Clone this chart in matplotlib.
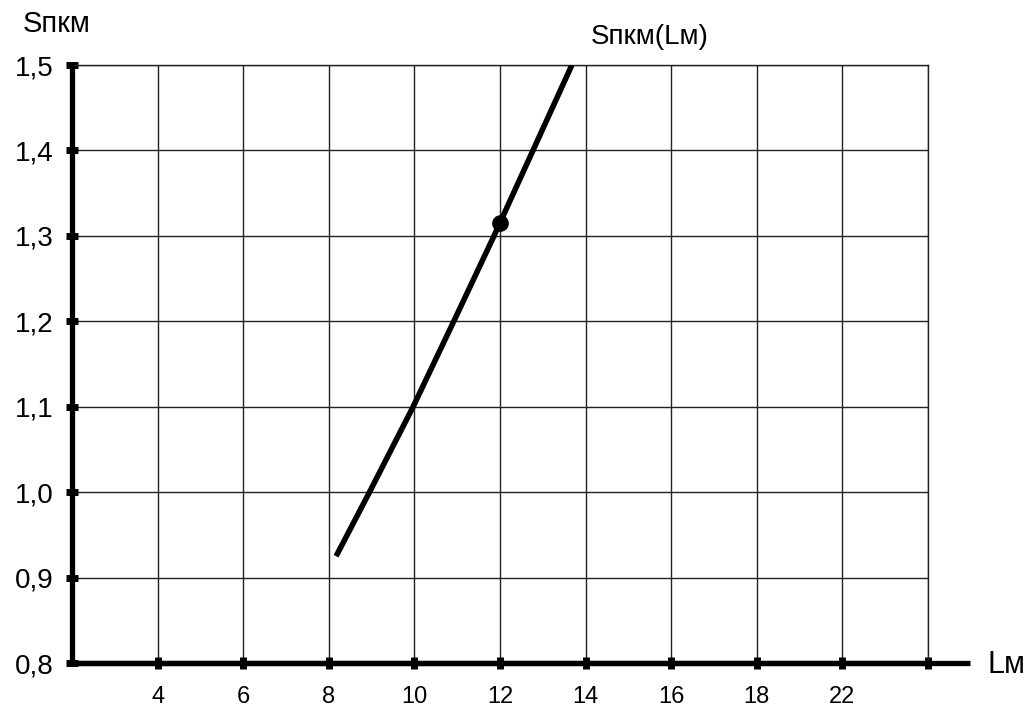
import matplotlib
matplotlib.use('Agg')
from matplotlib import pyplot as plt

plt.rcParams['font.family'] = ['Liberation Sans', 'DejaVu Sans']

# S_pkm as a function of L_m
lm = [8.17, 8.95, 9.97, 10.92, 11.86, 12.77, 13.68]
s_pkm = [0.925, 1.0, 1.1, 1.2, 1.3, 1.4, 1.5]
point_lm = [12.0]
point_s = [1.315]

x_ticks = [4, 6, 8, 10, 12, 14, 16, 18, 20, 22]
x_labels = ['4', '6', '8', '10', '12', '14', '16', '18', '22', '']
y_ticks = [0.8, 0.9, 1.0, 1.1, 1.2, 1.3, 1.4, 1.5]
y_labels = ['0,8', '0,9', '1,0', '1,1', '1,2', '1,3', '1,4', '1,5']

fig = plt.figure(figsize=(10.32, 7.13), dpi=100)
ax = fig.add_axes([0.0698, 0.0701, 0.8294, 0.8387])

ax.set_xlim(2, 22)
ax.set_ylim(0.8, 1.5)

#grid
ax.set_xticks(x_ticks)
ax.set_xticklabels(x_labels, fontsize=17)
ax.set_yticks(y_ticks)
ax.set_yticklabels(y_labels, fontsize=20)
ax.grid(True, color='#222222', linewidth=1.0)
ax.set_axisbelow(True)

#axes: thick left/bottom, thin top/right
for side in ['top', 'right']:
    ax.spines[side].set_linewidth(1.0)
    ax.spines[side].set_color('#222222')
ax.spines['left'].set_linewidth(3.8)
ax.spines['bottom'].set_linewidth(3.8)
ax.spines['left'].set_zorder(4)
ax.spines['bottom'].set_zorder(4)
ax.axhline(0.8, xmin=0, xmax=1.049, color='black', linewidth=3.8, clip_on=False, zorder=4, solid_capstyle='butt')

#square tick marks on the axes
ax.tick_params(axis='x', direction='inout', length=9, width=5, color='black', pad=12)
ax.tick_params(axis='y', direction='inout', length=9, width=5, color='black', pad=9)

ax.plot(lm, s_pkm, color='black', linewidth=4, solid_capstyle='butt', solid_joinstyle='round', zorder=5)
ax.plot(point_lm, point_s, 'o', color='black', markersize=11, zorder=6)

#captions
fig.text(0.022, 0.966, 'Sпкм', fontsize=21, ha='left', va='center')
fig.text(0.630, 0.948, 'Sпкм(Lм)', fontsize=20, ha='center', va='center')
fig.text(0.957, 0.068, 'Lм', fontsize=22, ha='left', va='center')

plt.savefig('out.png', dpi=100)
